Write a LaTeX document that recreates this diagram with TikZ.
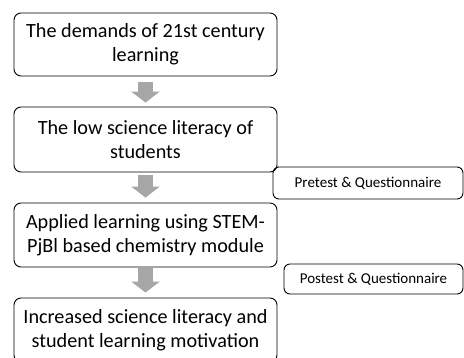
\documentclass[tikz,border=0pt]{standalone}
\usepackage{fontspec}
\setmainfont{Carlito}
\usetikzlibrary{positioning,arrows.meta}

\begin{document}
\begin{tikzpicture}[x=1pt,y=-1pt,
    stagebox/.style={draw,line width=0.9pt,rounded corners=7pt,minimum width=263pt,
      align=center,font=\fontsize{20.2}{24}\selectfont,inner sep=0pt},
    notebox/.style={draw,line width=0.9pt,rounded corners=6pt,
      font=\fontsize{15}{17}\selectfont,inner sep=0pt},
    flow/.style={draw=black!35,line width=15pt,
      -{Triangle[width=28pt,length=11pt,fill=black!35]}}]
    \useasboundingbox (0,0) rectangle (464,357);
    \clip (0,0) rectangle (464,357);
    \node[stagebox,minimum height=63pt] (demand) at (145.5,44.5) {The demands of 21st century\\learning};
    \node[stagebox,minimum height=65pt] (low) at (145.5,139.5) {The low science literacy of\\students};
    \node[stagebox,minimum height=64pt] (apply) at (145.5,235) {Applied learning using STEM-\\PjBl based chemistry module};
    \node[stagebox,minimum height=64pt] (gain) at (145.5,330) {Increased science literacy and\\student learning motivation};
    \node[notebox,minimum width=190pt,minimum height=32pt] (pre) at (368,183) {Pretest \& Questionnaire};
    \node[notebox,minimum width=179pt,minimum height=30pt] (post) at (373.5,279) {Postest \& Questionnaire};
    % block arrows between the stages
    \draw[flow,shorten <=6pt,shorten >=4pt] (demand) -- (low);
    \draw[flow,shorten <=3pt,shorten >=5pt] (low) -- (apply);
    \draw[flow,shorten <=1pt,shorten >=5pt] (apply) -- (gain);
\end{tikzpicture}
\end{document}
